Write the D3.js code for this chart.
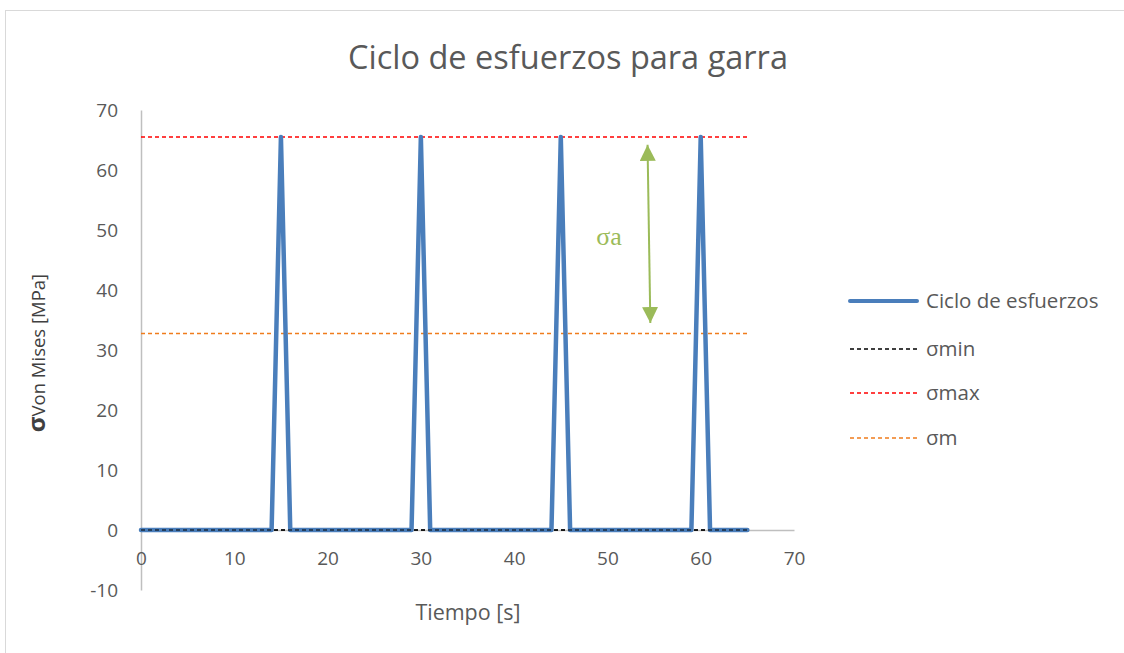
<!DOCTYPE html>
<html>
<head>
<meta charset="utf-8">
<script src="https://cdn.jsdelivr.net/npm/d3@7"></script>
<style>
  html, body { margin: 0; padding: 0; background: #fff; }
  svg { display: block; }
</style>
</head>
<body>
<svg id="chart" width="1124" height="653"></svg>
<script>
// Stress cycle of the claw: one load pulse every 15 s
const time = d3.range(0, 66);               // 0 .. 65 s, 1 s step
const peakTimes = [15, 30, 45, 60];
const sigmaMax = 65.5;                      // MPa
const sigmaMin = 0;                         // MPa
const sigmaMean = 32.75;                    // MPa
const stress = time.map(t => peakTimes.includes(t) ? sigmaMax : 0);

const minLine = [[0, sigmaMin], [65, sigmaMin]];
const maxLine = [[0, sigmaMax], [65, sigmaMax]];
const meanLine = [[0, sigmaMean], [65, sigmaMean]];

const xTicks = [0, 10, 20, 30, 40, 50, 60, 70];
const yTicks = [-10, 0, 10, 20, 30, 40, 50, 60, 70];

// amplitude arrow (annotation) in data units
const ampArrow = { t: 54.3, from: 64.2, to: 34.5, tEnd: 54.6 };

const legendItems = [
  { label: "Ciclo de esfuerzos", color: "#4a7ebb", width: 4, dash: null },
  { label: "σmin", color: "#000000", width: 1.3, dash: "4,3" },
  { label: "σmax", color: "#ff0000", width: 1.3, dash: "4,3" },
  { label: "σm", color: "#f07c1c", width: 1.3, dash: "4,3" }
];

const svg = d3.select("#chart");
const font = "'Open Sans', 'Liberation Sans', sans-serif";
const textColor = "#595959";
const fmt = d => String(d);   // plain hyphen for negatives

// chart frame
svg.append("rect")
  .attr("x", 5.5).attr("y", 10.5)
  .attr("width", 1130).attr("height", 660)
  .attr("fill", "#fff").attr("stroke", "#d9d9d9").attr("stroke-width", 1);

const x = d3.scaleLinear().domain([0, 70]).range([141, 794]);
const y = d3.scaleLinear().domain([-10, 70]).range([590, 110]);

// title
svg.append("text")
  .attr("x", 568).attr("y", 69)
  .attr("text-anchor", "middle")
  .attr("font-family", font).attr("font-size", 32.5)
  .attr("fill", textColor)
  .text("Ciclo de esfuerzos para garra");

// axes
const axisColor = "#bfbfbf";
const yAxis = svg.append("g").attr("transform", `translate(${x(0)},0)`)
  .call(d3.axisLeft(y).tickValues(yTicks).tickSize(0).tickPadding(23).tickFormat(fmt));
const xAxis = svg.append("g").attr("transform", `translate(0,${y(0)})`)
  .call(d3.axisBottom(x).tickValues(xTicks).tickSize(0).tickPadding(22).tickFormat(fmt));
[xAxis, yAxis].forEach(g => {
  g.select(".domain").attr("stroke", axisColor).attr("stroke-width", 1.5);
  g.selectAll("text").attr("font-family", font).attr("font-size", 19).attr("fill", textColor);
});

// axis titles
svg.append("text")
  .attr("x", 468).attr("y", 620)
  .attr("text-anchor", "middle")
  .attr("font-family", font).attr("font-size", 21.5).attr("fill", textColor)
  .text("Tiempo [s]");

const yTitle = svg.append("text")
  .attr("transform", `translate(45,${y(30) + 3}) rotate(-90)`)
  .attr("text-anchor", "middle")
  .attr("font-family", font).attr("font-size", 18.5).attr("fill", "#404040");
yTitle.append("tspan").attr("font-size", 24).attr("font-weight", 700).text("σ");
yTitle.append("tspan").text("Von Mises [MPa]");

const line = d3.line().x(d => x(d[0])).y(d => y(d[1]));

// reference lines
[[minLine, legendItems[1]], [maxLine, legendItems[2]], [meanLine, legendItems[3]]].forEach(([pts, st]) => {
  svg.append("path").datum(pts).attr("d", line)
    .attr("fill", "none").attr("stroke", st.color)
    .attr("stroke-width", st.width).attr("stroke-dasharray", st.dash);
});

// stress cycle
svg.append("path")
  .datum(time.map((t, i) => [t, stress[i]]))
  .attr("d", line)
  .attr("fill", "none").attr("stroke", "#4a7ebb")
  .attr("stroke-width", 4.5).attr("stroke-linejoin", "round").attr("stroke-linecap", "round");

// redraw the min line over the cycle baseline
svg.append("path").datum(minLine).attr("d", line)
  .attr("fill", "none").attr("stroke", "#000")
  .attr("stroke-width", 1.2).attr("stroke-dasharray", "4,3");

// amplitude arrow
const green = "#9bbb59";
const defs = svg.append("defs");
defs.append("marker").attr("id", "head").attr("viewBox", "0 0 10 10")
  .attr("refX", 10).attr("refY", 5)
  .attr("markerWidth", 16).attr("markerHeight", 16)
  .attr("markerUnits", "userSpaceOnUse")
  .attr("orient", "auto-start-reverse")
  .append("path").attr("d", "M0,0 L10,5 L0,10 Z").attr("fill", green);

svg.append("line")
  .attr("x1", x(ampArrow.t)).attr("y1", y(ampArrow.from))
  .attr("x2", x(ampArrow.tEnd)).attr("y2", y(ampArrow.to))
  .attr("stroke", green).attr("stroke-width", 2)
  .attr("marker-start", "url(#head)").attr("marker-end", "url(#head)");

svg.append("text")
  .attr("x", 609).attr("y", 245)
  .attr("text-anchor", "middle")
  .attr("font-family", "'Liberation Serif', 'DejaVu Serif', serif")
  .attr("font-size", 26).attr("fill", green)
  .text("σa");

// legend
const legend = svg.append("g");
const legendY = [301, 349, 393, 438];
legendItems.forEach((item, i) => {
  const g = legend.append("g").attr("transform", `translate(0,${legendY[i]})`);
  g.append("line").attr("x1", 850).attr("x2", 917).attr("y1", 0).attr("y2", 0)
    .attr("stroke", item.color).attr("stroke-width", item.width)
    .attr("stroke-dasharray", item.dash)
    .attr("stroke-linecap", item.dash ? "butt" : "round");
  g.append("text").attr("x", 926).attr("y", 0).attr("dy", "0.35em")
    .attr("font-family", font).attr("font-size", 20.5).attr("fill", textColor)
    .text(item.label);
});
</script>
</body>
</html>
